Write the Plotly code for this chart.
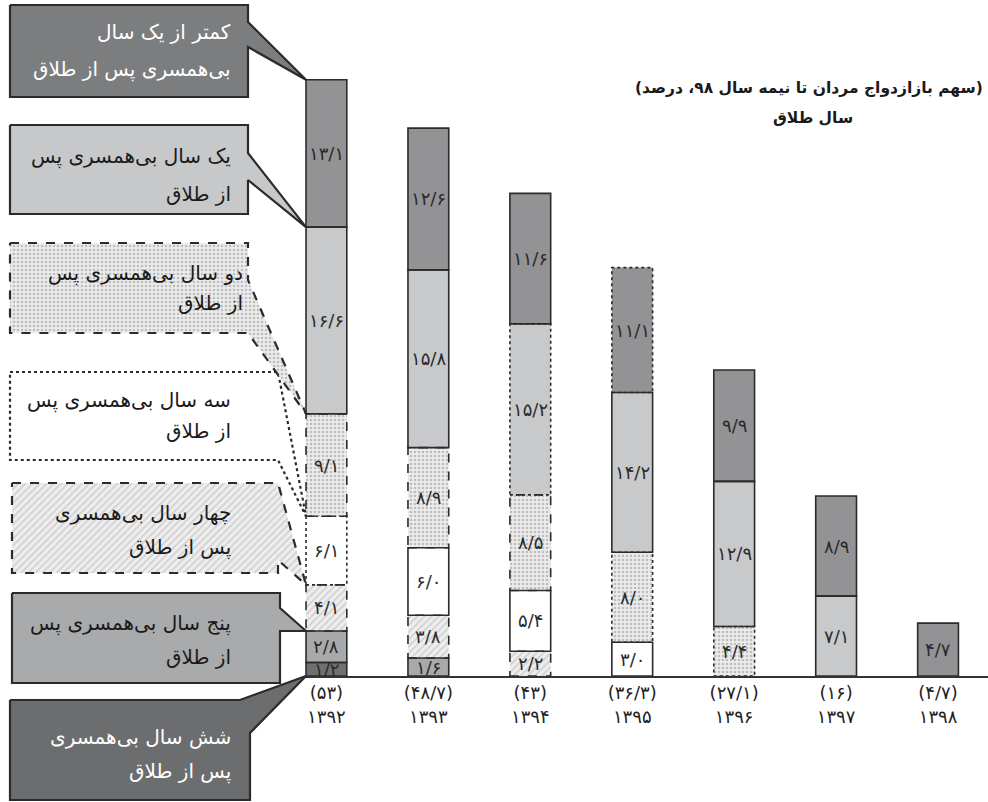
import plotly.graph_objects as go

# ---- data -------------------------------------------------------------
years = [1392, 1393, 1394, 1395, 1396, 1397, 1398]
totals = [53, 48.7, 43, 36.3, 27.1, 16, 4.7]

# share remarried, by years spent single after the divorce (bottom -> top)
six_years = [1.2, None, None, None, None, None, None]
five_years = [2.8, 1.6, None, None, None, None, None]
four_years = [4.1, 3.8, 2.2, None, None, None, None]
three_years = [6.1, 6.0, 5.4, 3.0, None, None, None]
two_years = [9.1, 8.9, 8.5, 8.0, 4.4, None, None]
one_year = [16.6, 15.8, 15.2, 14.2, 12.9, 7.1, None]
under_one = [13.1, 12.6, 11.6, 11.1, 9.9, 8.9, 4.7]

series_names = [
    "شش سال بی‌همسری پس از طلاق",
    "پنج سال بی‌همسری پس از طلاق",
    "چهار سال بی‌همسری پس از طلاق",
    "سه سال بی‌همسری پس از طلاق",
    "دو سال بی‌همسری پس از طلاق",
    "یک سال بی‌همسری پس از طلاق",
    "کمتر از یک سال بی‌همسری پس از طلاق",
]
series_values = [six_years, five_years, four_years, three_years,
                 two_years, one_year, under_one]

callout_lines = [
    ["شش سال بی‌همسری", "پس از طلاق"],
    ["پنج سال بی‌همسری پس", "از طلاق"],
    ["چهار سال بی‌همسری", "پس از طلاق"],
    ["سه سال بی‌همسری پس", "از طلاق"],
    ["دو سال بی‌همسری پس", "از طلاق"],
    ["یک سال بی‌همسری پس", "از طلاق"],
    ["کمتر از یک سال", "بی‌همسری پس از طلاق"],
]

title_text = "(سهم بازازدواج مردان تا نیمه سال ۹۸، درصد)"
subtitle_text = "سال طلاق"

# ---- helpers ------------------------------------------------------------
# Persian digits, with "/" as the decimal separator
FA = str.maketrans("0123456789.", "۰۱۲۳۴۵۶۷۸۹/")


def fa_num(v):
    return f"{v:.1f}".translate(FA)


def fa_total(v):
    s = f"{v:.0f}" if float(v).is_integer() else f"{v:.1f}"
    return s.translate(FA)


# ---- geometry -------------------------------------------------------------
FIG_W, FIG_H = 988, 802
PLOT_L, PLOT_TOP, PLOT_BOTTOM = 305, 50, 676
Y_MAX = 55.64
X_RANGE = [-0.21, 6.49]
BAR_W = 0.4
FONT = "DejaVu Sans"
EDGE = "#2b2b2b"


def y_px(v):
    return PLOT_BOTTOM - v * (PLOT_BOTTOM - PLOT_TOP) / Y_MAX


def x_px(x):
    return PLOT_L + (x - X_RANGE[0]) * (FIG_W - PLOT_L) / (X_RANGE[1] - X_RANGE[0])


# fills per series
DOTS = dict(shape=".", fgcolor="#8f8f8f", bgcolor="#ececec", size=4, solidity=0.35)
HATCH = dict(shape="/", fgcolor="#b5b5b5", bgcolor="#eeeeee", size=5, solidity=0.35)
bar_styles = [
    dict(color="#6f7072"),
    dict(color="#a8a9ab"),
    dict(color="#eeeeee", pattern=HATCH),
    dict(color="#ffffff"),
    dict(color="#ececec", pattern=DOTS),
    dict(color="#c8c9cb"),
    dict(color="#939395"),
]
edge_dash = ["solid", "solid", "dash", "solid", "dash", "solid", "solid"]
edge_dash_override = {(3, 0): "dot", (4, 3): "dot", (4, 4): "dot",
                      (5, 2): "dot", (6, 3): "dot"}

fig = go.Figure()
xs = list(range(len(years)))

shapes = []
annotations = []
base = [0.0] * len(years)
seg_tops_first_bar = []
for s, (name, vals) in enumerate(zip(series_names, series_values)):
    st = bar_styles[s]
    marker = dict(color=st["color"], line=dict(width=0))
    if "pattern" in st:
        marker["pattern"] = st["pattern"]
    bx, by, bb = [], [], []
    for i, v in enumerate(vals):
        if v is None:
            continue
        bx.append(i)
        by.append(v)
        bb.append(base[i])
        dash = edge_dash_override.get((s, i), edge_dash[s])
        shapes.append(dict(type="rect", xref="x", yref="y",
                           x0=i - BAR_W / 2, x1=i + BAR_W / 2,
                           y0=base[i], y1=base[i] + v,
                           line=dict(color=EDGE, width=1.6, dash=dash),
                           fillcolor="rgba(0,0,0,0)", layer="above"))
        annotations.append(dict(xref="x", yref="y", x=i, y=base[i] + v / 2,
                                text=fa_num(v), showarrow=False,
                                font=dict(family=FONT, size=18, color="#2a2a2a")))
        base[i] += v
    seg_tops_first_bar.append(base[0])
    fig.add_trace(go.Bar(x=bx, y=by, base=bb, width=BAR_W, marker=marker,
                         name=name, showlegend=False, xaxis="x", yaxis="y"))

# ---- callouts pointing at the first bar's segments -----------------------
apex_x = x_px(-BAR_W / 2)
apex_y = [y_px(0)] + [y_px(t) for t in seg_tops_first_bar[1:]]


def polygon(points):
    xs_, ys_ = zip(*points)
    return list(xs_) + [xs_[0]], list(ys_) + [ys_[0]]


callouts = [
    # six years
    dict(pts=lambda a: [(10, 700), (240, 700), a, (250, 733), (250, 800), (10, 800)],
         fill="#6c6d6f", dash="solid", txt="white", right=233, ys=[737, 771]),
    # five years
    dict(pts=lambda a: [(12, 593), (280, 593), (280, 608), a, (280, a[1]), (280, 683), (12, 683)],
         fill="#a9aaac", dash="solid", txt="#1a1a1a", right=233, ys=[623, 657]),
    # four years
    dict(pts=lambda a: [(12, 483), (278, 483), a, (278, 560), (278, 573), (12, 573)],
         fill="#eeeeee", pattern=HATCH, dash="dash", txt="#1a1a1a", right=233, ys=[513, 547]),
    # three years
    dict(pts=lambda a: [(10, 372), (278, 372), a, (278, 460), (10, 460)],
         fill="#ffffff", dash="dot", txt="#1a1a1a", right=233, ys=[400, 431]),
    # two years
    dict(pts=lambda a: [(10, 243), (248, 243), (248, 280), a, (248, 333), (10, 333)],
         fill="#ececec", pattern=DOTS, dash="dash", txt="#1a1a1a", right=245, ys=[273, 303]),
    # one year
    dict(pts=lambda a: [(10, 125), (248, 125), (248, 153), a, (248, 180), (248, 214), (10, 214)],
         fill="#c7c8ca", dash="solid", txt="#1a1a1a", right=233, ys=[156, 194]),
    # under one year
    dict(pts=lambda a: [(10, 5), (248, 5), (248, 22), a, (248, 47), (248, 97), (10, 97)],
         fill="#7c7d7f", dash="solid", txt="white", right=233, ys=[32, 69]),
]

for s, c in enumerate(callouts):
    a = (apex_x, apex_y[s])
    px, py = polygon(c["pts"](a))
    kw = dict(fillcolor=c["fill"])
    if "pattern" in c:
        kw["fillpattern"] = c["pattern"]
    fig.add_trace(go.Scatter(x=px, y=py, mode="lines", fill="toself",
                             line=dict(color=EDGE, width=2.2, dash=c["dash"]),
                             hoverinfo="skip", showlegend=False,
                             xaxis="x2", yaxis="y2", **kw))
    for line_txt, ly in zip(callout_lines[s], c["ys"]):
        annotations.append(dict(xref="x2", yref="y2", x=c["right"], y=ly,
                                text=line_txt, showarrow=False,
                                xanchor="right", yanchor="middle",
                                font=dict(family=FONT, size=20, color=c["txt"])))

annotations.append(dict(xref="x2", yref="y2", x=985, y=88, text="<b>" + title_text + "</b>",
                        showarrow=False, xanchor="right", yanchor="middle",
                        font=dict(family=FONT, size=15.5, color="#1a1a1a")))
annotations.append(dict(xref="x2", yref="y2", x=813, y=118, text="<b>" + subtitle_text + "</b>",
                        showarrow=False, xanchor="center", yanchor="middle",
                        font=dict(family=FONT, size=15.5, color="#1a1a1a")))

ticktext = [f"({fa_total(t)})<br>{str(y).translate(FA)}" for t, y in zip(totals, years)]

fig.update_layout(
    width=FIG_W, height=FIG_H,
    margin=dict(l=0, r=0, t=0, b=0),
    paper_bgcolor="white", plot_bgcolor="rgba(0,0,0,0)",
    barmode="overlay", showlegend=False,
    shapes=shapes, annotations=annotations,
    xaxis=dict(domain=[PLOT_L / FIG_W, 1], range=X_RANGE, tickvals=xs, ticktext=ticktext,
               showline=True, linecolor="#333333", linewidth=1.5, showgrid=False,
               zeroline=False, ticks="", tickfont=dict(family=FONT, size=18, color="#222222"),
               fixedrange=True, anchor="y"),
    yaxis=dict(domain=[1 - PLOT_BOTTOM / FIG_H, 1 - PLOT_TOP / FIG_H], range=[0, Y_MAX],
               visible=False, fixedrange=True, anchor="x"),
    xaxis2=dict(domain=[0, 1], range=[0, FIG_W], visible=False, fixedrange=True, anchor="y2"),
    yaxis2=dict(domain=[0, 1], range=[FIG_H, 0], visible=False, fixedrange=True, anchor="x2"),
)

fig.write_html("out.html")
